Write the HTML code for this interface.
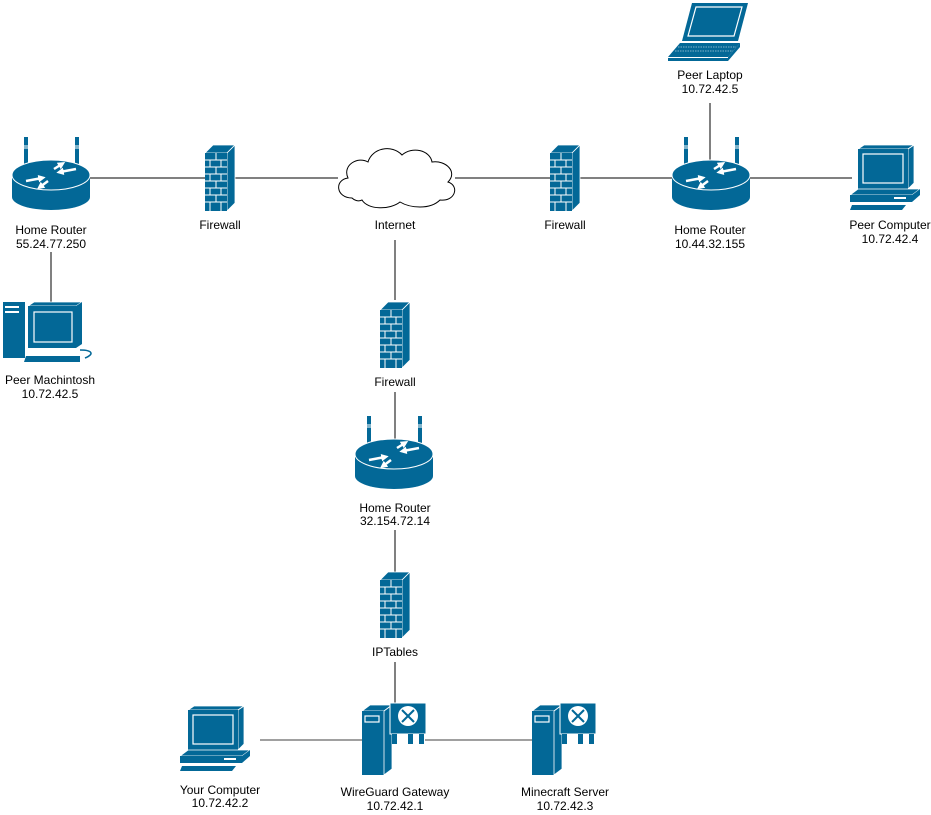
<!DOCTYPE html>
<html><head><meta charset="utf-8"><style>
body{margin:0;background:#fff}
svg{display:block}
text{font-family:"Liberation Sans",sans-serif;font-size:12px;fill:#000;text-anchor:middle}
</style></head><body>
<svg width="931" height="815" viewBox="0 0 931 815" xmlns="http://www.w3.org/2000/svg">
<defs>
<marker id="ah" viewBox="0 0 10 10" refX="5" refY="5" markerWidth="3" markerHeight="3" orient="auto"><path d="M0 0 L10 5 L0 10 Z" fill="#fff"/></marker>
<g id="router">
  <rect x="12" y="0" width="4" height="30" fill="#036897"/>
  <rect x="63" y="0" width="4" height="30" fill="#036897"/>
  <rect x="12" y="8" width="4" height="4" fill="#fff" opacity="0.5"/>
  <rect x="63" y="8" width="4" height="4" fill="#fff" opacity="0.5"/>
  <path d="M0 38 L0 60 A39 13 0 0 0 78 60 L78 38 Z" fill="#036897"/>
  <ellipse cx="39" cy="38" rx="39" ry="15" fill="#036897" stroke="#fff" stroke-width="1"/>
  <g stroke="#fff" stroke-width="2.5" marker-end="url(#ah)">
    <line x1="14" y1="44" x2="30" y2="41"/>
    <line x1="64" y1="32" x2="48" y2="35"/>
    <line x1="36" y1="44" x2="28" y2="50"/>
    <line x1="42" y1="32" x2="50" y2="27"/>
  </g>
</g>
<g id="fw">
  <path d="M0 8 L8 0 L30 0 L22 8 Z" fill="#036897" stroke="#fff" stroke-width="0.8"/>
  <path d="M22 8 L30 0 L30 58 L22 66 Z" fill="#036897" stroke="#fff" stroke-width="0.8"/>
  <rect x="0" y="8" width="22" height="58" fill="#036897"/>
  <g stroke="#fff" stroke-width="1">
    <line x1="0" y1="15" x2="22" y2="15"/><line x1="0" y1="22" x2="22" y2="22"/>
    <line x1="0" y1="29" x2="22" y2="29"/><line x1="0" y1="36" x2="22" y2="36"/>
    <line x1="0" y1="43" x2="22" y2="43"/><line x1="0" y1="50" x2="22" y2="50"/>
    <line x1="0" y1="57" x2="22" y2="57"/>
    <line x1="11" y1="8" x2="11" y2="15"/><line x1="5" y1="15" x2="5" y2="22"/><line x1="16" y1="15" x2="16" y2="22"/>
    <line x1="11" y1="22" x2="11" y2="29"/><line x1="5" y1="29" x2="5" y2="36"/><line x1="16" y1="29" x2="16" y2="36"/>
    <line x1="11" y1="36" x2="11" y2="43"/><line x1="5" y1="43" x2="5" y2="50"/><line x1="16" y1="43" x2="16" y2="50"/>
    <line x1="11" y1="50" x2="11" y2="57"/><line x1="5" y1="57" x2="5" y2="66"/><line x1="16" y1="57" x2="16" y2="66"/>
  </g>
</g>
<g id="pc">
  <path d="M8 4 L14 0 L64 0 L58 4 Z" fill="#036897" stroke="#fff" stroke-width="0.8"/>
  <path d="M58 4 L64 0 L64 38 L58 44 Z" fill="#036897" stroke="#fff" stroke-width="0.8"/>
  <rect x="8" y="4" width="50" height="40" fill="#036897"/>
  <rect x="13" y="9" width="40" height="29" fill="#036897" stroke="#fff" stroke-width="1.2"/>
  <path d="M0 50 L8 44 L70 44 L62 50 Z" fill="#036897" stroke="#fff" stroke-width="0.8"/>
  <path d="M62 50 L70 44 L70 50 L62 57 Z" fill="#036897"/>
  <rect x="0" y="50" width="62" height="7" fill="#036897"/>
  <rect x="44" y="52" width="12" height="2" fill="#fff"/>
  <path d="M2 60 L56 60 L52 65 L0 65 Z" fill="#036897"/>
</g>
<g id="laptop">
  <path d="M26 0 L82 0 L72 38 L16 38 Z" fill="#036897"/>
  <path d="M30 4 L76 4 L68 33 L22 33 Z" fill="#036897" stroke="#fff" stroke-width="1.2"/>
  <path d="M14 40 L74 40 L62 54 L2 54 Z" fill="#036897"/>
  <g stroke="#fff" stroke-width="0.6" stroke-dasharray="1.5 1"><line x1="12" y1="44" x2="70" y2="44"/><line x1="9" y1="48" x2="67" y2="48"/></g>
  <path d="M2 55 L62 55 L62 58 L2 58 Z" fill="#036897"/>
  <path d="M62 54 L74 40 L74 44 L62 58 Z" fill="#036897"/>
</g>
<g id="srv">
  <path d="M0 8 L8 2 L30 2 L22 8 Z" fill="#036897" stroke="#fff" stroke-width="0.8"/>
  <rect x="0" y="8" width="22" height="64" fill="#036897"/>
  <path d="M22 8 L30 2 L30 66 L22 72 Z" fill="#036897" stroke="#fff" stroke-width="0.8"/>
  <rect x="3" y="13" width="14" height="6" fill="none" stroke="#fff" stroke-width="1.2"/>
  <rect x="28" y="0" width="36" height="31" fill="#036897" stroke="#fff" stroke-width="1"/>
  <circle cx="46" cy="13" r="10" fill="#fff"/>
  <g stroke="#036897" stroke-width="2"><line x1="40" y1="7" x2="52" y2="19"/><line x1="52" y1="7" x2="40" y2="19"/></g>
  <rect x="30" y="31" width="5" height="10" fill="#036897"/>
  <rect x="46" y="31" width="5" height="10" fill="#036897"/>
  <rect x="57" y="31" width="5" height="10" fill="#036897"/>
</g>
</defs>

<g stroke="#000" stroke-width="1" fill="none">
  <line x1="90" y1="178" x2="205" y2="178"/>
  <line x1="235" y1="178" x2="338" y2="178"/>
  <line x1="455" y1="178" x2="550" y2="178"/>
  <line x1="580" y1="178" x2="672" y2="178"/>
  <line x1="750" y1="178" x2="852" y2="178"/>
  <line x1="51" y1="252" x2="51" y2="302"/>
  <line x1="710" y1="103" x2="710" y2="163"/>
  <line x1="395" y1="240" x2="395" y2="300"/>
  <line x1="395" y1="392" x2="395" y2="440"/>
  <line x1="395" y1="530" x2="395" y2="572"/>
  <line x1="395" y1="662" x2="395" y2="703"/>
</g>
<g stroke="#808080" stroke-width="1.5">
  <line x1="260" y1="740" x2="362" y2="740"/>
  <line x1="425" y1="740" x2="532" y2="740"/>
</g>

<use href="#router" x="12" y="137"/>
<use href="#router" x="672" y="137"/>
<use href="#router" x="355" y="416"/>
<use href="#fw" x="205" y="145"/>
<use href="#fw" x="550" y="145"/>
<use href="#fw" x="380" y="302"/>
<use href="#fw" x="380" y="572"/>
<path d="M352 198 C336 198 334 180 348 178 C342 165 358 156 368 162 C372 148 392 144 402 155 C412 146 430 150 432 162 C446 160 458 172 448 182 C460 186 455 202 440 200 C430 210 410 208 400 202 C390 210 368 210 362 200 C358 202 354 200 352 198 Z" fill="#fff" stroke="#000" stroke-width="1"/>
<use href="#laptop" x="666" y="3"/>
<use href="#pc" x="850" y="145"/>
<use href="#pc" x="180" y="706"/>
<g>
  <rect x="3" y="302" width="22" height="56" fill="#036897"/>
  <rect x="5" y="306" width="14" height="2" fill="#fff"/><rect x="5" y="311" width="14" height="2" fill="#fff"/>
  <path d="M28 306 L34 302 L82 302 L76 306 Z" fill="#036897" stroke="#fff" stroke-width="0.8"/>
  <rect x="28" y="306" width="48" height="42" fill="#036897"/>
  <path d="M76 306 L82 302 L82 344 L76 348 Z" fill="#036897"/>
  <rect x="34" y="312" width="38" height="30" fill="#036897" stroke="#fff" stroke-width="1.2"/>
  <path d="M26 356 L80 356 L80 362 L24 362 Z" fill="#036897"/>
  <path d="M80 350 C92 350 95 354 85 358" fill="none" stroke="#036897" stroke-width="1.5"/>
</g>
<use href="#srv" x="362" y="703"/>
<use href="#srv" x="532" y="703"/>

<text x="51" y="234">Home Router</text><text x="51" y="248">55.24.77.250</text>
<text x="220" y="229">Firewall</text>
<text x="395" y="229">Internet</text>
<text x="565" y="229">Firewall</text>
<text x="710" y="234">Home Router</text><text x="710" y="248">10.44.32.155</text>
<text x="710" y="79">Peer Laptop</text><text x="710" y="93">10.72.42.5</text>
<text x="890" y="229">Peer Computer</text><text x="890" y="243">10.72.42.4</text>
<text x="50" y="384">Peer Machintosh</text><text x="50" y="398">10.72.42.5</text>
<text x="395" y="386">Firewall</text>
<text x="395" y="512">Home Router</text><text x="395" y="525">32.154.72.14</text>
<text x="395" y="656">IPTables</text>
<text x="220" y="794">Your Computer</text><text x="220" y="807">10.72.42.2</text>
<text x="395" y="796">WireGuard Gateway</text><text x="395" y="810">10.72.42.1</text>
<text x="565" y="796">Minecraft Server</text><text x="565" y="810">10.72.42.3</text>
</svg>
</body></html>
